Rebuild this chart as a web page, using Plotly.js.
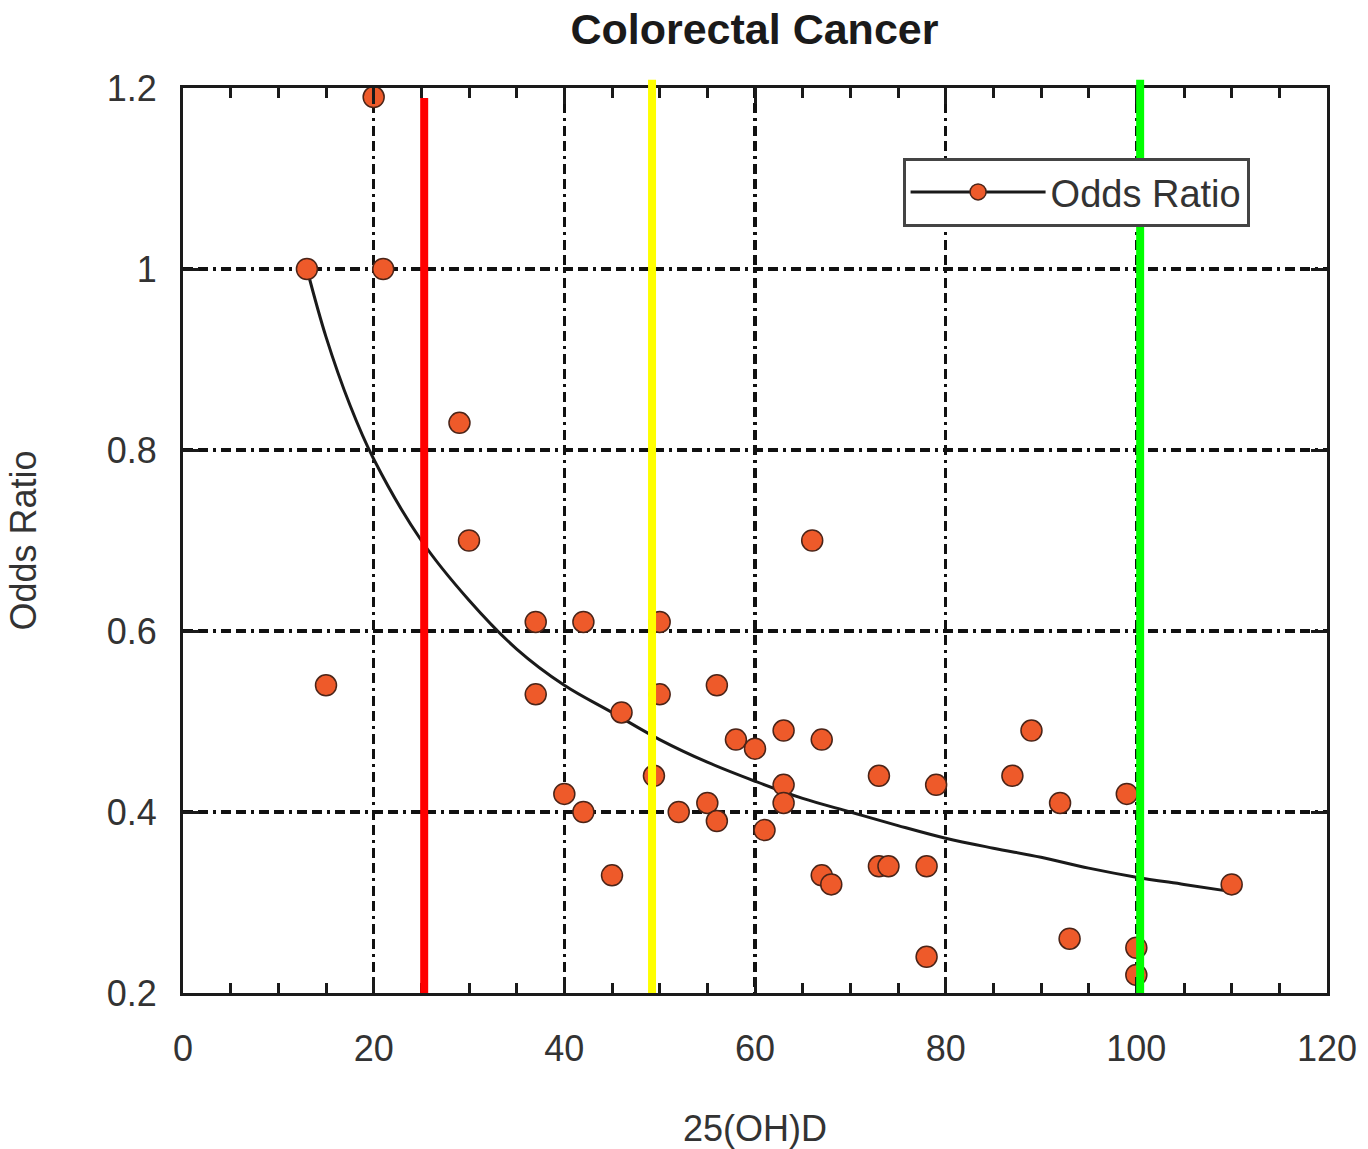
<!DOCTYPE html>
<html>
<head>
<meta charset="utf-8">
<script src="https://cdn.plot.ly/plotly-3.0.1.min.js"></script>
<style>html,body{margin:0;padding:0;background:#fff;}#chart{width:1368px;height:1149px;}</style>
</head>
<body>
<div id="chart"></div>
<script>
// Observed studies: 25(OH)D level vs odds ratio
var vitD = [13, 20, 21, 15, 29, 30, 37, 42, 50, 37, 50, 56, 46, 40, 42, 45, 49.4, 52, 55, 56, 58, 60, 61, 63, 63, 63, 66, 67, 67, 68, 73, 73, 74, 78, 78, 79, 87, 89, 92, 93, 99, 100, 100, 110];
var oddsRatio = [1.0, 1.19, 1.0, 0.54, 0.83, 0.70, 0.61, 0.61, 0.61, 0.53, 0.53, 0.54, 0.51, 0.42, 0.40, 0.33, 0.44, 0.40, 0.41, 0.39, 0.48, 0.47, 0.38, 0.49, 0.43, 0.41, 0.70, 0.48, 0.33, 0.32, 0.44, 0.34, 0.34, 0.34, 0.24, 0.43, 0.44, 0.49, 0.41, 0.26, 0.42, 0.25, 0.22, 0.32];

// Fitted curve
var fitX = [13, 15, 17.5, 20, 25, 30, 35, 40, 45, 50, 55, 60, 65, 70, 75, 80, 85, 90, 95, 100, 105, 110];
var fitY = [1.0, 0.925, 0.85, 0.79, 0.70, 0.634, 0.58, 0.54, 0.51, 0.48, 0.455, 0.434, 0.415, 0.40, 0.385, 0.371, 0.36, 0.35, 0.338, 0.328, 0.32, 0.312];

// Highlight vertical reference lines
var refX = [25.3, 49.2, 100.4];
var refColors = ['#ff0000', '#ffff00', '#00ff00'];

var xTickVals = [0, 20, 40, 60, 80, 100, 120];
var yTickVals = [0.2, 0.4, 0.6, 0.8, 1, 1.2];

var markerFill = '#EE5A2A';
var markerEdge = '#4a2418';

var traces = [
  {x: fitX, y: fitY, mode: 'lines', type: 'scatter', showlegend: false,
   line: {color: '#1a1a1a', width: 3, shape: 'spline', smoothing: 1}, hoverinfo: 'skip'},
  {x: vitD, y: oddsRatio, mode: 'markers', type: 'scatter', showlegend: false,
   marker: {size: 21, color: markerFill, line: {color: markerEdge, width: 1.5}}},
  {x: [null], y: [null], mode: 'lines+markers', type: 'scatter', name: 'Odds Ratio', showlegend: true,
   line: {color: '#1a1a1a', width: 3},
   marker: {size: 21, color: markerFill, line: {color: markerEdge, width: 1.5}}}
];

var shapes = refX.map(function (xv, i) {
  var tops = [0.989, 1.009, 1.009];
  return {type: 'line', xref: 'x', yref: 'paper', x0: xv, x1: xv, y0: 0, y1: tops[i],
          line: {color: refColors[i], width: 8}, layer: 'above'};
});

var fontFam = 'Liberation Sans, Arial, sans-serif';
var gridDash = '10px,5px,10px,5px,3px,5px';
var layout = {
  width: 1368, height: 1149,
  margin: {l: 183, r: 41, t: 88, b: 156},
  paper_bgcolor: '#ffffff', plot_bgcolor: '#ffffff',
  font: {family: fontFam, color: '#333333', size: 36},
  title: {text: '<b>Colorectal Cancer</b>', x: 0.5515, xanchor: 'center', y: 0.975, yanchor: 'middle',
          font: {family: fontFam, size: 43, color: '#1a1a1a'}},
  xaxis: {
    range: [0, 120], tickvals: xTickVals, ticktext: xTickVals.map(String),
    ticks: 'inside', ticklen: 16, tickwidth: 3, tickcolor: '#1a1a1a',
    minor: {dtick: 5, ticks: 'inside', ticklen: 10, tickwidth: 3, tickcolor: '#1a1a1a', showgrid: false},
    showline: true, linewidth: 3, linecolor: '#1a1a1a', mirror: 'ticks',
    showgrid: true, gridcolor: '#111111', gridwidth: 3.5, griddash: gridDash,
    zeroline: false, ticklabelstandoff: 22,
    tickfont: {size: 36, color: '#333333', family: fontFam},
    title: {text: '25(OH)D', font: {size: 36, color: '#333333', family: fontFam}, standoff: 50}
  },
  yaxis: {
    range: [0.2, 1.2], tickvals: yTickVals,
    ticks: 'inside', ticklen: 16, tickwidth: 3, tickcolor: '#1a1a1a',
    showline: true, linewidth: 3, linecolor: '#1a1a1a', mirror: 'ticks',
    showgrid: true, gridcolor: '#111111', gridwidth: 3.5, griddash: gridDash,
    zeroline: false, ticklabelstandoff: 16,
    tickfont: {size: 36, color: '#333333', family: fontFam},
    title: {text: 'Odds Ratio', font: {size: 36, color: '#333333', family: fontFam}, standoff: 60}
  },
  legend: {x: 0.629, y: 0.923, xanchor: 'left', yanchor: 'top',
           bgcolor: '#ffffff', bordercolor: '#444444', borderwidth: 3,
           font: {size: 38, color: '#333333', family: fontFam}, itemwidth: 135},
  shapes: shapes,
  showlegend: true
};

Plotly.newPlot('chart', traces, layout, {displayModeBar: false, staticPlot: true});
</script>
</body>
</html>
